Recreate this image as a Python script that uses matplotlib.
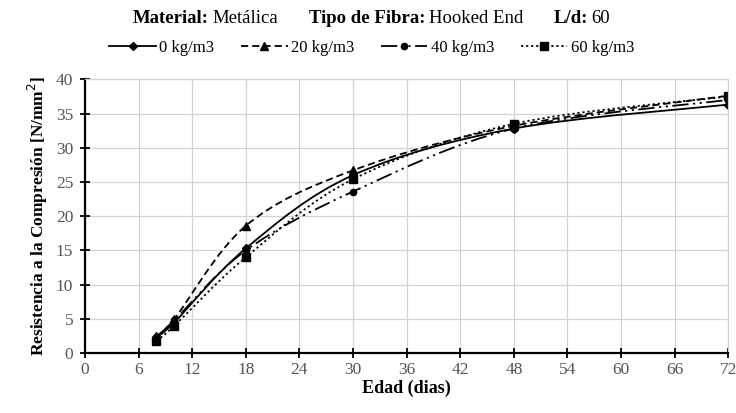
import numpy as np
import matplotlib
matplotlib.use("Agg")
import matplotlib.pyplot as plt
from matplotlib.path import Path
from matplotlib.patches import PathPatch
from matplotlib.lines import Line2D

plt.rcParams['font.family'] = ['Liberation Serif', 'DejaVu Serif']

# Datos (edad en dias, resistencia en N/mm2)
edad = [8, 10, 18, 30, 48, 72]
r_0 = [2.3, 4.5, 15.3, 26.0, 32.8, 36.3]
r_20 = [2.5, 5.0, 18.6, 26.7, 33.2, 37.6]
r_40 = [2.4, 4.8, 15.0, 23.6, 32.8, 37.0]
r_60 = [1.8, 4.0, 14.0, 25.4, 33.5, 37.5]

etiquetas = ['0 kg/m3', '20 kg/m3', '40 kg/m3', '60 kg/m3']
estilos = ['-', (0, (4, 2.2)), (0, (9, 2.5, 1.2, 2.5, 1.2, 2.5)), (0, (1.2, 1.6))]
marcadores = ['D', '^', 'o', 's']
tam_marcador = [4.5, 6, 4.5, 6]
series = [r_0, r_20, r_40, r_60]

titulo = [('Material:', 'bold', 4), ('Metálica', 'normal', 30),
          ('Tipo de Fibra:', 'bold', 4), ('Hooked End', 'normal', 30),
          ('L/d:', 'bold', 4), ('60', 'normal', 0)]


def curva_suave(x, y):
    # segmentos bezier tipo Catmull-Rom (como las lineas suavizadas de Excel)
    p = np.column_stack([x, y]).astype(float)
    n = len(p)
    verts = [p[0]]
    codes = [Path.MOVETO]
    for i in range(n - 1):
        p0 = p[i - 1] if i > 0 else p[i]
        p3 = p[i + 2] if i + 2 < n else p[i + 1]
        c1 = p[i] + (p[i + 1] - p0) / 6.0
        c2 = p[i + 1] - (p3 - p[i]) / 6.0
        verts += [c1, c2, p[i + 1]]
        codes += [Path.CURVE4] * 3
    return Path(verts, codes)


fig = plt.figure(figsize=(7.36, 4.13), dpi=100)
ax = fig.add_axes([0.1155, 0.145, 0.874, 0.663])

for y, ls, mk, ms in zip(series, estilos, marcadores, tam_marcador):
    ax.add_patch(PathPatch(curva_suave(edad, y), facecolor='none',
                           edgecolor='black', linewidth=1.3, linestyle=ls))
    ax.plot(edad, y, linestyle='none', marker=mk, markersize=ms, color='black')

ax.set_xlim(0, 72)
ax.set_ylim(0, 40)
ax.set_xticks(range(0, 73, 6))
ax.set_yticks(range(0, 41, 5))
ax.grid(True, color='#d4d4d4', linewidth=0.9)
ax.set_axisbelow(True)
for lado in ['top', 'right']:
    ax.spines[lado].set_color('#d4d4d4')
    ax.spines[lado].set_linewidth(0.9)
for lado in ['left', 'bottom']:
    ax.spines[lado].set_linewidth(1.6)
ax.tick_params(direction='inout', length=7, width=1.3, color='black',
               labelsize=12.5, labelcolor='#555555', pad=3)
ax.tick_params(axis='y', pad=5)

ax.set_xlabel('Edad (dias)', fontsize=13, fontweight='bold', labelpad=1)
ax.set_ylabel('Resistencia a la Compresión [N/mm$^2$]', fontsize=12.5,
              fontweight='bold', labelpad=4)

# Titulo con partes en negrita, encadenadas segun su ancho
fig.canvas.draw()
rend = fig.canvas.get_renderer()
objs = [fig.text(0, 0.956, txt, fontsize=13.5, fontweight=peso, ha='left', va='center')
        for txt, peso, _ in titulo]
anchos = [o.get_window_extent(rend).width for o in objs]
total = sum(anchos) + sum(g for _, _, g in titulo)
xpix = 0.505 * fig.bbox.width - total / 2
for o, w, (_, _, g) in zip(objs, anchos, titulo):
    o.set_x(xpix / fig.bbox.width)
    xpix += w + g

manejadores = [Line2D([], [], color='black', linestyle=ls, marker=mk,
                      markersize=ms, linewidth=1.3)
               for ls, mk, ms in zip(estilos, marcadores, tam_marcador)]
fig.legend(manejadores, etiquetas, loc='center', bbox_to_anchor=(0.505, 0.884),
           ncol=4, frameon=False, fontsize=12, handlelength=2.8,
           columnspacing=1.6, handletextpad=0.2)

fig.savefig('out.png', dpi=100)
